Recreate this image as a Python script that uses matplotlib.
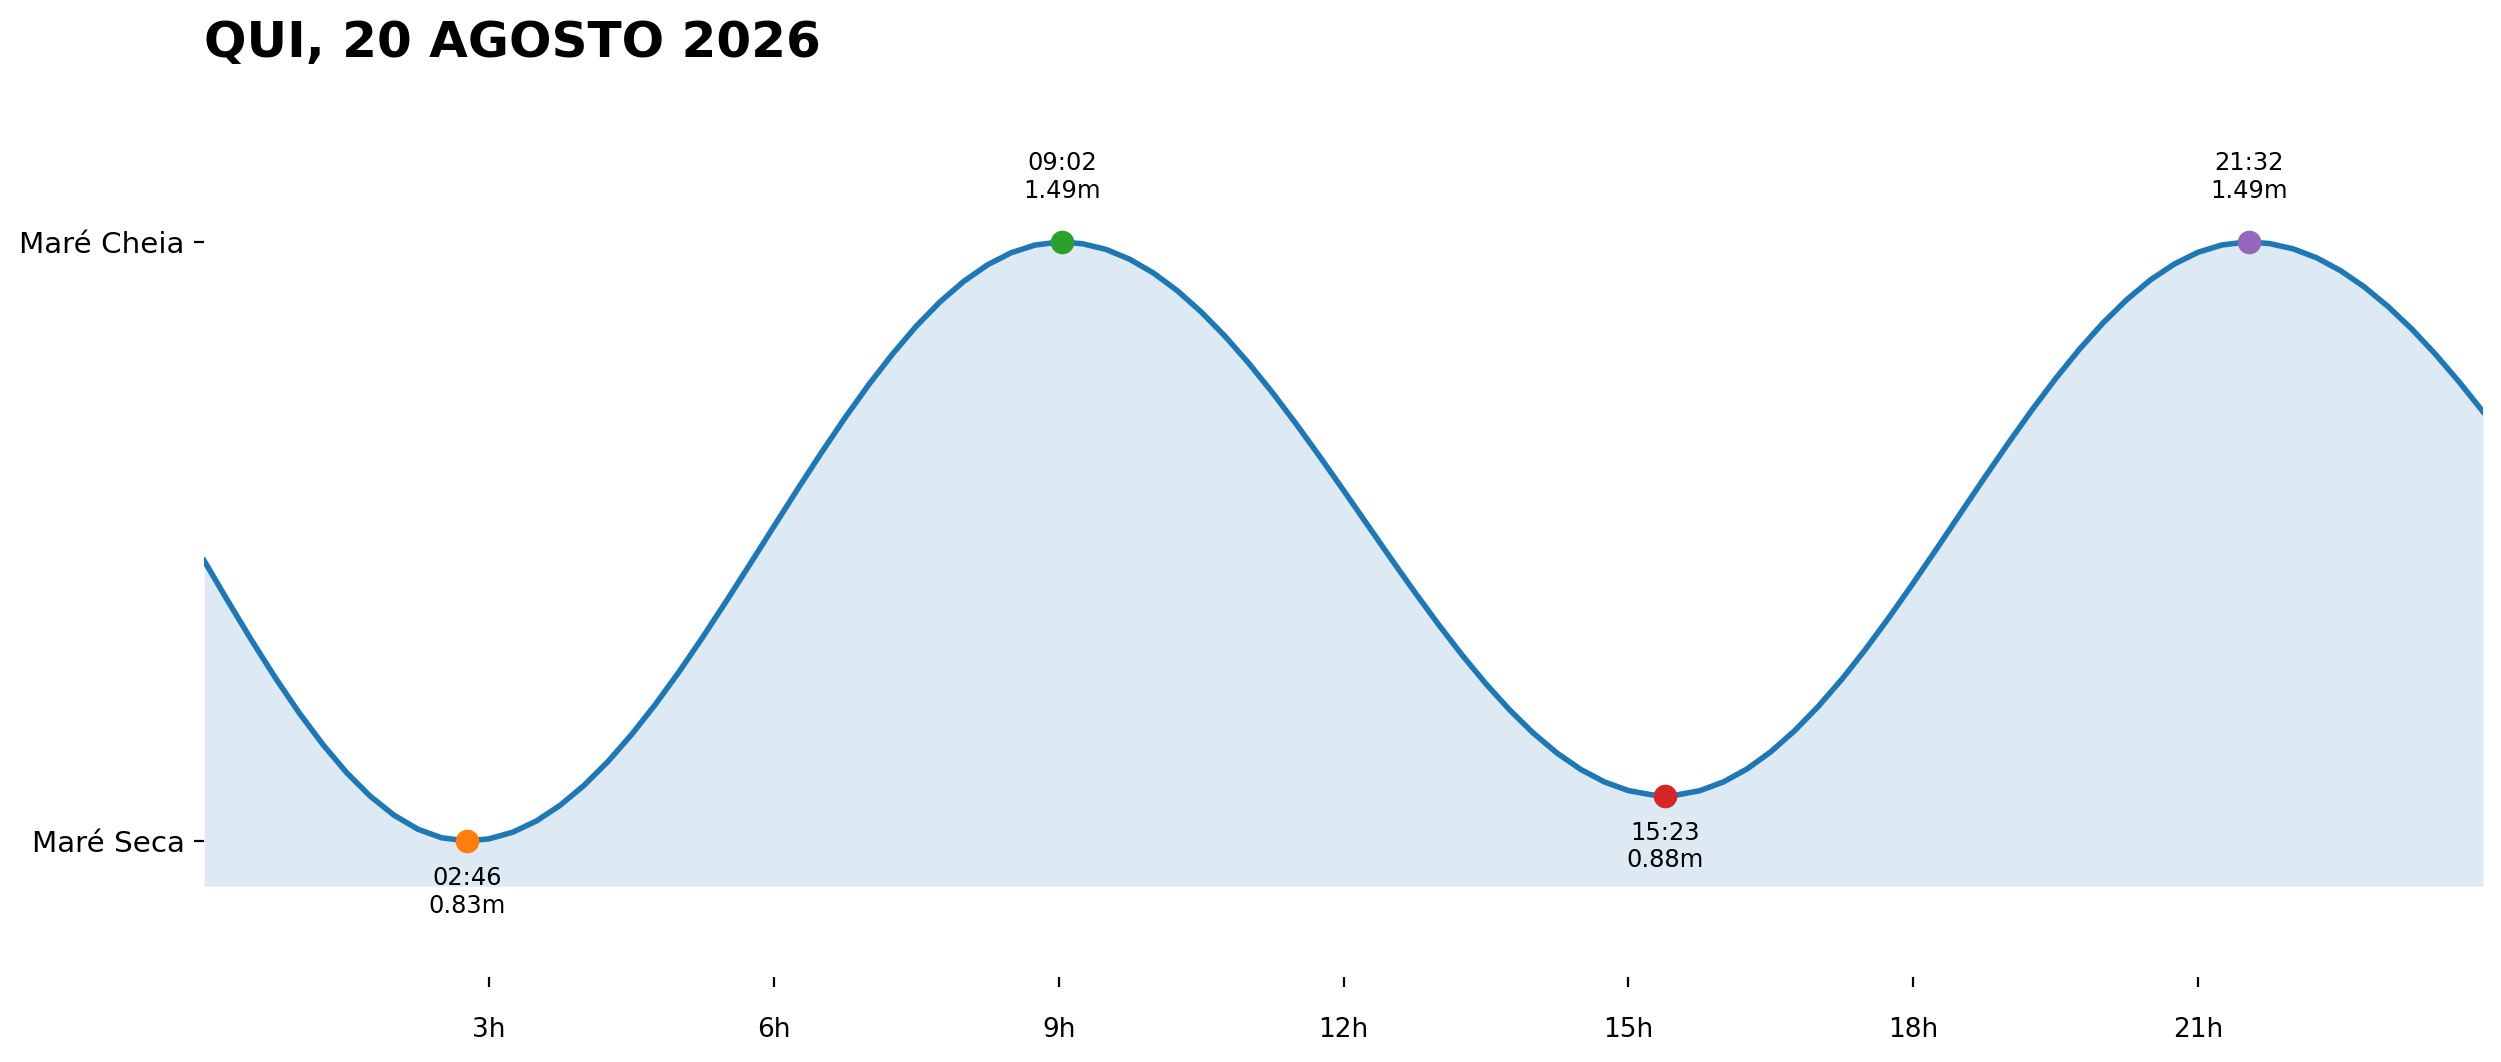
import matplotlib
matplotlib.use("Agg")
import matplotlib.pyplot as plt

# tide curve (hours, metres), every 15 min + extremes
hours = [0.0, 0.25, 0.5, 0.75, 1.0, 1.25, 1.5, 1.75, 2.0, 2.25, 2.5, 2.7667,
         3.0, 3.25, 3.5, 3.75, 4.0, 4.25, 4.5, 4.75, 5.0, 5.25, 5.5, 5.75,
         6.0, 6.25, 6.5, 6.75, 7.0, 7.25, 7.5, 7.75, 8.0, 8.25, 8.5, 8.75,
         9.0, 9.0333, 9.25, 9.5, 9.75, 10.0, 10.25, 10.5, 10.75, 11.0, 11.25, 11.5, 11.75,
         12.0, 12.25, 12.5, 12.75, 13.0, 13.25, 13.5, 13.75, 14.0, 14.25, 14.5, 14.75,
         15.0, 15.25, 15.3833, 15.5, 15.75, 16.0, 16.25, 16.5, 16.75, 17.0, 17.25, 17.5, 17.75,
         18.0, 18.25, 18.5, 18.75, 19.0, 19.25, 19.5, 19.75, 20.0, 20.25, 20.5, 20.75,
         21.0, 21.25, 21.5, 21.5333, 21.75, 22.0, 22.25, 22.5, 22.75, 23.0, 23.25, 23.5, 23.75,
         24.0]
heights = [1.1390, 1.0945, 1.0512, 1.0099, 0.9714, 0.9364, 0.9054, 0.8793, 0.8584, 0.8430, 0.8335, 0.8300,
           0.8323, 0.8396, 0.8520, 0.8693, 0.8911, 0.9171, 0.9470, 0.9801, 1.0161, 1.0544, 1.0943, 1.1352,
           1.1765, 1.2176, 1.2577, 1.2964, 1.3329, 1.3666, 1.3973, 1.4241, 1.4467, 1.4649, 1.4783, 1.4867,
           1.4900, 1.4900, 1.4882, 1.4819, 1.4710, 1.4558, 1.4364, 1.4131, 1.3865, 1.3567, 1.3243, 1.2897, 1.2536,
           1.2164, 1.1787, 1.1411, 1.1042, 1.0686, 1.0347, 1.0031, 0.9743, 0.9487, 0.9267, 0.9087, 0.8949,
           0.8855, 0.8807, 0.8800, 0.8805, 0.8853, 0.8950, 0.9094, 0.9283, 0.9514, 0.9783, 1.0084, 1.0416, 1.0771,
           1.1143, 1.1526, 1.1915, 1.2303, 1.2683, 1.3050, 1.3397, 1.3719, 1.4011, 1.4267, 1.4485, 1.4659,
           1.4788, 1.4868, 1.4900, 1.4900, 1.4884, 1.4826, 1.4726, 1.4585, 1.4406, 1.4190, 1.3942, 1.3663, 1.3358,
           1.3031]

# extremes
ext_hours = [2.7667, 9.0333, 15.3833, 21.5333]
ext_heights = [0.83, 1.49, 0.88, 1.49]
ext_labels = ["02:46", "09:02", "15:23", "21:32"]
ext_is_high = [False, True, False, True]
ext_colors = ["#ff7f0e", "#2ca02c", "#d62728", "#9467bd"]

x_ticks = [3, 6, 9, 12, 15, 18, 21]
x_tick_labels = ["3h", "6h", "9h", "12h", "15h", "18h", "21h"]
y_tick_labels = ["Maré Seca", "Maré Cheia"]
title = "QUI, 20 AGOSTO 2026"

fig = plt.figure(figsize=(12.505, 5.31), dpi=200)
ax = fig.add_axes([0.0816, 0.0800, 0.9112, 0.8202])

low = min(ext_heights)
high = max(ext_heights)

ax.fill_between(hours, heights, low - 0.05, color="#1f77b4", alpha=0.15, linewidth=0)
ax.plot(hours, heights, color="#1f77b4", linewidth=2, solid_joinstyle="round")

for t, h, lab, hi, c in zip(ext_hours, ext_heights, ext_labels, ext_is_high, ext_colors):
    ax.plot(t, h, "o", color=c, markersize=7.5, zorder=5)
    if hi:
        ax.annotate(f"{lab}\n{h:.2f}m", (t, h), xytext=(0, 14), textcoords="offset points",
                    ha="center", va="bottom", fontsize=8.7)
    else:
        ax.annotate(f"{lab}\n{h:.2f}m", (t, h), xytext=(0, -9), textcoords="offset points",
                    ha="center", va="top", fontsize=8.7)

ax.set_xlim(0, 24)
ax.set_ylim(low - 0.15, high + 0.15)
ax.set_xticks(x_ticks)
ax.set_xticklabels(x_tick_labels, fontsize=9.5)
ax.set_yticks([low, high])
ax.set_yticklabels(y_tick_labels, fontsize=10.6)
ax.tick_params(axis="x", pad=11)

for s in ax.spines.values():
    s.set_visible(False)

ax.set_title(title, loc="left", fontsize=18, fontweight="bold", pad=17.5)

fig.savefig("out.png", dpi=200)
